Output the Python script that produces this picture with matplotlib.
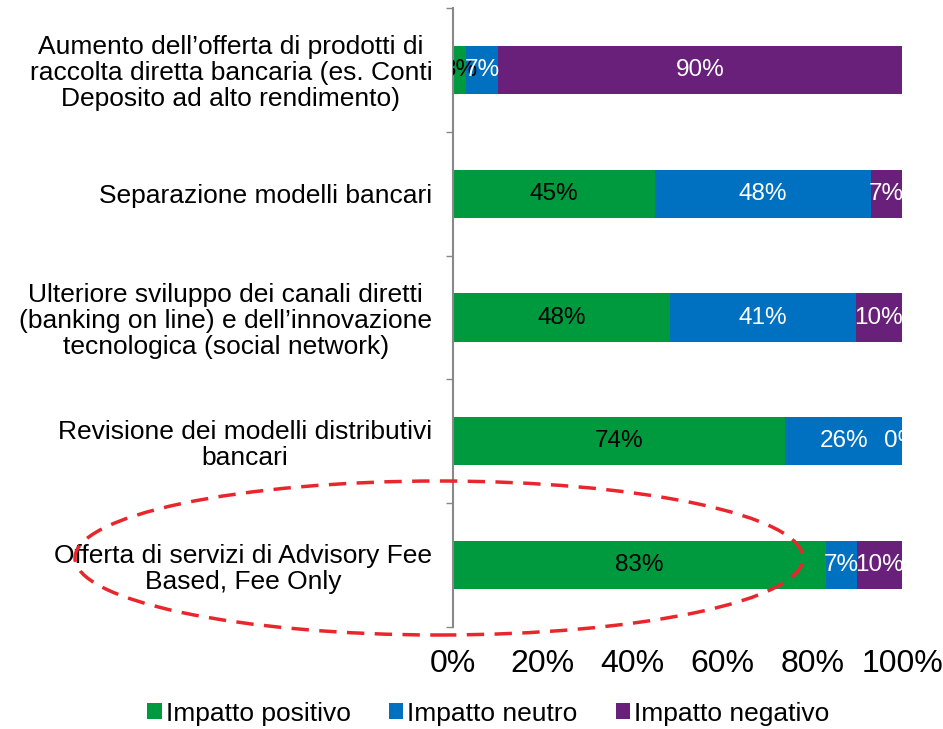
import matplotlib.pyplot as plt
from matplotlib.patches import Ellipse
import numpy as np

plt.rcParams['font.family'] = ['Liberation Sans', 'DejaVu Sans']

# dati
categorie = [
    "Aumento dell\u2019offerta di prodotti di\nraccolta diretta bancaria (es. Conti\nDeposito ad alto rendimento)",
    "Separazione modelli bancari",
    "Ulteriore sviluppo dei canali diretti\n(banking on line) e dell\u2019innovazione\ntecnologica (social network)",
    "Revisione dei modelli distributivi\nbancari",
    "Offerta di servizi di Advisory Fee\nBased, Fee Only",
]
positivo = [2.9, 45.0, 48.3, 74.0, 83.0]
neutro = [7.1, 48.0, 41.4, 26.0, 7.0]
negativo = [90.0, 7.0, 10.3, 0.0, 10.0]
serie = ["Impatto positivo", "Impatto neutro", "Impatto negativo"]
colori = ['#009A3E', '#0070C0', '#68207A']
colori_testo = ['black', 'white', 'white']

fig = plt.figure(figsize=(9.43, 7.29), dpi=100)
ax = fig.add_axes([453/943, 1 - 627/729, 449/943, 619/729])

y = np.arange(len(categorie))
left = np.zeros(len(categorie))
for vals, nome, col, tcol in zip([positivo, neutro, negativo], serie, colori, colori_testo):
    vals = np.array(vals)
    ax.barh(y, vals, left=left, height=0.39, color=col, label=nome, zorder=2)
    # etichette sopra tutte le barre
    for xi, yi, v in zip(left, y, vals):
        ax.text(xi + v / 2, yi, f'{v:.0f}%', ha='center', va='center',
                color=tcol, fontsize=17.5, clip_on=True, zorder=5)
    left = left + vals

ax.set_xlim(0, 100)
ax.set_ylim(len(categorie) - 0.5, -0.5)
ax.set_xticks(np.arange(0, 101, 20))
ax.set_xticklabels([f'{v}%' for v in range(0, 101, 20)], fontsize=23)
ax.tick_params(axis='x', length=0, pad=16)

ax.set_yticks(y)
ax.set_yticklabels(categorie, fontsize=19, multialignment='center', linespacing=1.1)
ax.tick_params(axis='y', which='major', length=0, pad=15)
ax.set_yticks(np.arange(-0.5, len(categorie)), minor=True)
ax.tick_params(axis='y', which='minor', length=5, width=1, color='#888888')

for s in ['top', 'right', 'bottom']:
    ax.spines[s].set_visible(False)
ax.spines['left'].set_color('#888888')
ax.spines['left'].set_linewidth(1.5)

fig.legend(loc='lower center', bbox_to_anchor=(0.518, -0.028), ncol=3, frameon=False,
           fontsize=19, handlelength=0.55, handleheight=0.55, handletextpad=0.15,
           columnspacing=1.45)

ell = Ellipse((439/943, 1 - 558/729), 728/943, 154/729, transform=fig.transFigure,
              fill=False, edgecolor='#E8262C', linestyle=(0, (5, 3)), linewidth=2.5)
fig.add_artist(ell)

fig.savefig('out.png', dpi=100)
